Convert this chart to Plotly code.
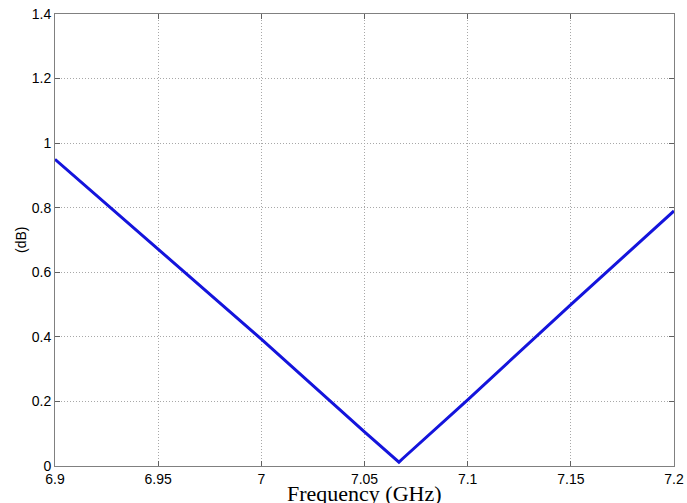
import plotly.graph_objects as go

freq_ghz = [6.9, 6.95, 7.0, 7.05, 7.0647, 7.0667, 7.0687, 7.1, 7.15, 7.2]
loss_db = [0.95, 0.672, 0.393, 0.106, 0.024, 0.012, 0.024, 0.205, 0.5, 0.79]

x_ticks = [6.9, 6.95, 7.0, 7.05, 7.1, 7.15, 7.2]
x_tick_labels = ["6.9", "6.95", "7", "7.05", "7.1", "7.15", "7.2"]
y_ticks = [0, 0.2, 0.4, 0.6, 0.8, 1.0, 1.2, 1.4]
y_tick_labels = ["0", "0.2", "0.4", "0.6", "0.8", "1", "1.2", "1.4"]

fig = go.Figure()
fig.add_trace(go.Scatter(x=freq_ghz, y=loss_db, mode="lines",
                         line=dict(color="#1414dc", width=3), showlegend=False))

axis_common = dict(
    showline=True, linecolor="#808080", linewidth=1, mirror="ticks",
    ticks="inside", ticklen=5, tickcolor="#606060", tickwidth=1,
    showgrid=True, gridcolor="#a8a8a8", griddash="1px,2px", gridwidth=1,
    zeroline=False, automargin=False,
    tickfont=dict(family="Liberation Sans, Arial, sans-serif", size=14, color="black"),
)

fig.update_xaxes(range=[6.9, 7.2], tickvals=x_ticks, ticktext=x_tick_labels, **axis_common)
fig.update_yaxes(range=[0, 1.4], tickvals=y_ticks, ticktext=y_tick_labels, **axis_common)

fig.add_annotation(text="Frequency (GHz)", xref="paper", yref="paper", x=0.5, y=0,
                   yshift=-27, yanchor="middle", showarrow=False,
                   font=dict(family="Liberation Serif, Times New Roman, serif", size=22, color="black"))
fig.add_annotation(text="(dB)", xref="paper", yref="paper", x=0, y=0.5,
                   xshift=-34, xanchor="center", yanchor="middle", textangle=-90, showarrow=False,
                   font=dict(family="Liberation Sans, Arial, sans-serif", size=14, color="black"))

fig.update_layout(
    width=687, height=503,
    margin=dict(l=55, r=13, t=14, b=37, autoexpand=False),
    plot_bgcolor="white", paper_bgcolor="white",
)

fig.write_html("out.html", config={"displayModeBar": False},
               post_script="document.body.style.margin='0';document.body.style.overflow='hidden';")
